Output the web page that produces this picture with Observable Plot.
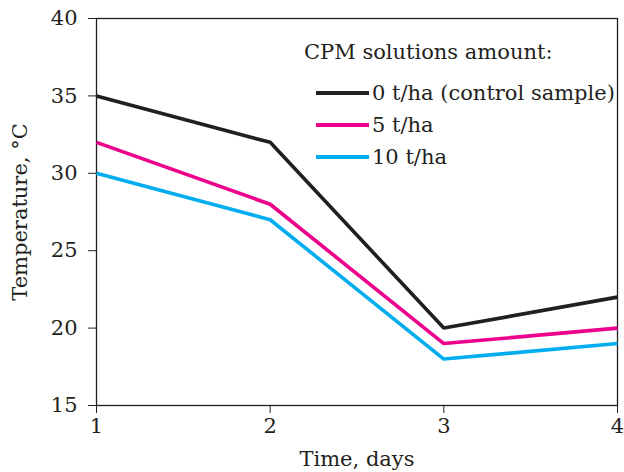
<!DOCTYPE html>
<html>
<head>
<meta charset="utf-8">
<script src="https://cdn.jsdelivr.net/npm/d3@7"></script>
<script src="https://cdn.jsdelivr.net/npm/@observablehq/plot@0.6"></script>
<style>
  html, body { margin: 0; padding: 0; background: #fff; }
  #wrap { position: relative; width: 624px; height: 472px; font-family: "DejaVu Serif", serif; color: #231f20; }
  #legend { position: absolute; left: 304px; top: 36px; font-size: 21px; line-height: 32px; }
  #legend .title { margin-bottom: 9px; }
  #legend .row { display: flex; align-items: center; margin-left: 12px; }
  #legend .sw { width: 53px; height: 4px; margin-right: 3px; }
</style>
</head>
<body>
<div id="wrap"></div>
<script>
const days = [1, 2, 3, 4];
const seriesNames = ["0 t/ha (control sample)", "5 t/ha", "10 t/ha"];
const control = [35, 32, 20, 22];
const five = [32, 28, 19, 20];
const ten = [30, 27, 18, 19];
const colors = ["#231f20", "#ec008c", "#00aeef"];
const xTicks = [1, 2, 3, 4];
const yTicks = [15, 20, 25, 30, 35, 40];
const legendTitle = "CPM solutions amount:";

const valuesBySeries = [control, five, ten];
const data = [];
seriesNames.forEach((s, i) => days.forEach((d, j) => data.push({series: s, day: d, temp: valuesBySeries[i][j]})));

const chart = Plot.plot({
  width: 624,
  height: 472,
  marginLeft: 96,
  marginRight: 7,
  marginTop: 18,
  marginBottom: 67,
  style: {fontFamily: "DejaVu Serif, serif", fontSize: "20px", color: "#231f20", background: "#fff"},
  x: {domain: [1, 4]},
  y: {domain: [15, 40]},
  color: {domain: seriesNames, range: colors},
  marks: [
    Plot.frame({stroke: "#231f20", strokeWidth: 1.3}),
    Plot.axisX({ticks: xTicks, tickFormat: d => String(d), tickSize: 8, tickPadding: 5, fontSize: 21, label: "Time, days", labelAnchor: "center", labelArrow: "none", labelOffset: 60, stroke: "#231f20"}),
    Plot.axisY({ticks: yTicks, tickFormat: d => String(d), tickSize: 8, tickPadding: 11, fontSize: 21, label: "Temperature, °C", labelAnchor: "center", labelArrow: "none", labelOffset: 84, stroke: "#231f20"}),
    Plot.line(data, {x: "day", y: "temp", z: "series", stroke: "series", strokeWidth: 3.6, strokeLinejoin: "miter", strokeLinecap: "butt"})
  ]
});
document.getElementById("wrap").appendChild(chart);

const legend = document.createElement("div");
legend.id = "legend";
let html = `<div class="title">${legendTitle}</div>`;
seriesNames.forEach((s, i) => {
  html += `<div class="row"><span class="sw" style="background:${colors[i]}"></span><span>${s}</span></div>`;
});
legend.innerHTML = html;
document.getElementById("wrap").appendChild(legend);
</script>
</body>
</html>
